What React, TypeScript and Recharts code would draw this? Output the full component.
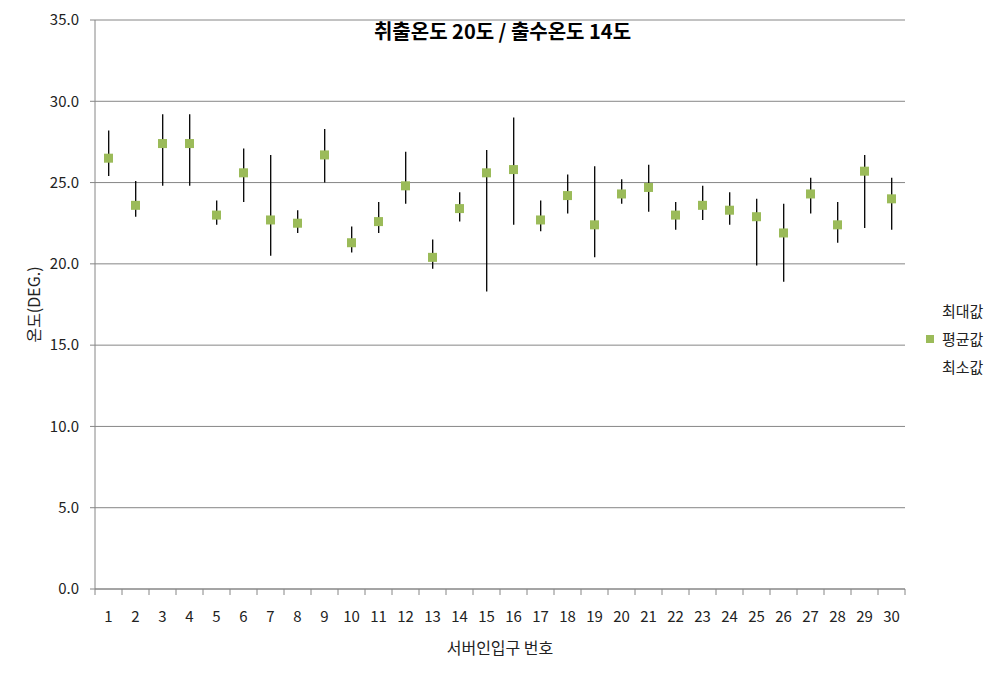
import React from 'react'
import { ComposedChart, Bar, Line, XAxis, YAxis, CartesianGrid } from 'recharts'

const inlets = ['1', '2', '3', '4', '5', '6', '7', '8', '9', '10', '11', '12', '13', '14', '15', '16', '17', '18', '19', '20', '21', '22', '23', '24', '25', '26', '27', '28', '29', '30']
const maxVals = [28.2, 25.1, 29.2, 29.2, 23.9, 27.1, 26.7, 23.3, 28.3, 22.3, 23.8, 26.9, 21.5, 24.4, 27.0, 29.0, 23.9, 25.5, 26.0, 25.2, 26.1, 23.8, 24.8, 24.4, 24.0, 23.7, 25.3, 23.8, 26.7, 25.3]
const avgVals = [26.5, 23.6, 27.4, 27.4, 23.0, 25.6, 22.7, 22.5, 26.7, 21.3, 22.6, 24.8, 20.4, 23.4, 25.6, 25.8, 22.7, 24.2, 22.4, 24.3, 24.7, 23.0, 23.6, 23.3, 22.9, 21.9, 24.3, 22.4, 25.7, 24.0]
const minVals = [25.4, 22.9, 24.8, 24.8, 22.4, 23.8, 20.5, 21.9, 25.0, 20.7, 21.9, 23.7, 19.7, 22.6, 18.3, 22.4, 22.0, 23.1, 20.4, 23.7, 23.2, 22.1, 22.7, 22.4, 19.9, 18.9, 23.1, 21.3, 22.2, 22.1]
const yTicks = [0, 5, 10, 15, 20, 25, 30, 35]

const W = 1005
const H = 678
const MARGIN = { top: 20, right: 100, bottom: 0, left: 0 }
const Y_W = 95
const X_H = 89
const BAND = (W - MARGIN.right - Y_W) / inlets.length

const FONT = '"Noto Sans CJK KR", "Noto Sans", sans-serif'
const GRID = '#868686'
const GREEN = '#9BBB59'

const data = inlets.map((name, i) => ({
  name,
  max: maxVals[i],
  avg: avgVals[i],
  min: minVals[i],
  range: [minVals[i], maxVals[i]],
}))

const HighLow = (props: any) => {
  const { x, y, width, height } = props
  const cx = x + width / 2
  return <line x1={cx} x2={cx} y1={y} y2={y + height} stroke="#000" strokeWidth={1.3} />
}

const Square = (props: any) => {
  const { cx, cy, index } = props
  if (cx == null || cy == null) return null
  return <rect key={index} x={cx - 4.5} y={cy - 4.5} width={9} height={9} fill={GREEN} />
}

const XTick = (props: any) => {
  const { x, y, payload, index } = props
  const axisY = y - 22
  const left = x - BAND / 2
  return (
    <g>
      <line x1={left} x2={left} y1={axisY} y2={axisY + 6} stroke={GRID} />
      {index === inlets.length - 1 && (
        <line x1={x + BAND / 2} x2={x + BAND / 2} y1={axisY} y2={axisY + 6} stroke={GRID} />
      )}
      <text x={x} y={y} dy="0.71em" textAnchor="middle" fontSize={15} fill="#222" fontFamily={FONT}>
        {payload.value}
      </text>
    </g>
  )
}

const YLabel = (props: any) => {
  const vb = props.viewBox
  const x = vb.x + 33
  const y = vb.y + vb.height / 2
  return (
    <text x={x} y={y} transform={`rotate(-90 ${x} ${y})`} textAnchor="middle" dominantBaseline="central" fontSize={16} fill="#222" fontFamily={FONT}>
      온도(DEG.)
    </text>
  )
}

export default function App() {
  return (
    <div style={{ position: 'absolute', left: 0, top: 0, width: W, height: H, background: '#fff', fontFamily: FONT }}>
      <ComposedChart width={W} height={H} data={data} margin={MARGIN}>
        <CartesianGrid horizontal vertical={false} stroke={GRID} />
        <XAxis
          dataKey="name"
          height={X_H}
          tick={<XTick />}
          tickLine={false}
          tickSize={6}
          tickMargin={16}
          interval={0}
          axisLine={{ stroke: GRID }}
          label={{ value: '서버인입구 번호', position: 'insideBottom', offset: 24, fontSize: 16, fill: '#222', fontFamily: FONT }}
        />
        <YAxis
          width={Y_W}
          domain={[0, 35]}
          ticks={yTicks}
          interval={0}
          tickFormatter={(v: number) => v.toFixed(1)}
          tick={{ fontSize: 15, fill: '#222', fontFamily: FONT }}
          tickSize={5}
          tickMargin={11}
          tickLine={{ stroke: GRID }}
          axisLine={{ stroke: GRID }}
          label={{ content: <YLabel /> }}
        />
        <Bar dataKey="range" shape={<HighLow />} isAnimationActive={false} />
        <Line dataKey="avg" stroke="none" dot={<Square />} activeDot={false} isAnimationActive={false} />
      </ComposedChart>

      <div style={{ position: 'absolute', left: 0, width: W, top: 16, textAlign: 'center', fontSize: 20, lineHeight: '30px', fontWeight: 'bold', color: '#000' }}>
        취출온도 20도 / 출수온도 14도
      </div>

      <div style={{ position: 'absolute', left: 926, top: 297, fontSize: 15, color: '#222', lineHeight: '28px' }}>
        <div style={{ paddingLeft: 16 }}>최대값</div>
        <div style={{ display: 'flex', alignItems: 'center' }}>
          <span style={{ width: 8, height: 8, background: GREEN, marginRight: 8 }} />
          평균값
        </div>
        <div style={{ paddingLeft: 16 }}>최소값</div>
      </div>
    </div>
  )
}
